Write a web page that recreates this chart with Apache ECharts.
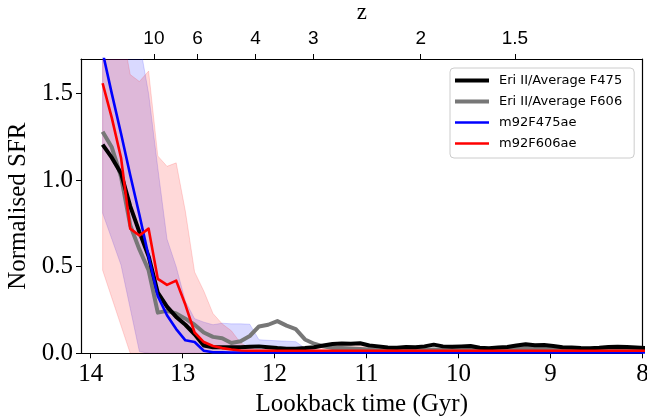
<!DOCTYPE html>
<html>
<head>
<meta charset="utf-8">
<script src="https://cdn.jsdelivr.net/npm/echarts@6/dist/echarts.min.js"></script>
<style>
  html, body { margin: 0; padding: 0; background: #ffffff; }
  #chart { width: 647px; height: 420px; }
</style>
</head>
<body>
<div id="chart"></div>
<script>
// Lookback time of each SFH bin (Gyr)
const times = [
  13.87, 13.77, 13.67, 13.57, 13.47, 13.37, 13.27, 13.17, 13.07, 12.97,
  12.87, 12.77, 12.67, 12.57, 12.47, 12.37, 12.27, 12.17, 12.07, 11.97,
  11.87, 11.77, 11.67, 11.57, 11.47, 11.37, 11.27, 11.17, 11.07, 10.97,
  10.87, 10.77, 10.67, 10.57, 10.47, 10.37, 10.27, 10.17, 10.07, 9.97,
  9.87, 9.77, 9.67, 9.57, 9.47, 9.37, 9.27, 9.17, 9.07, 8.97,
  8.87, 8.77, 8.67, 8.57, 8.47, 8.37, 8.27, 8.17, 8.07, 7.97
];

// Eri II / Average F475
const eriF475 = [
  1.205, 1.13, 1.04, 0.85, 0.70, 0.56, 0.35, 0.27, 0.21, 0.165,
  0.11, 0.045, 0.035, 0.035, 0.035, 0.035, 0.038, 0.040, 0.035, 0.030,
  0.027, 0.027, 0.030, 0.035, 0.045, 0.054, 0.056, 0.055, 0.058, 0.045,
  0.040, 0.033, 0.032, 0.036, 0.035, 0.040, 0.050, 0.040, 0.038, 0.040,
  0.042, 0.032, 0.029, 0.033, 0.036, 0.045, 0.052, 0.046, 0.048, 0.042,
  0.035, 0.033, 0.030, 0.029, 0.032, 0.037, 0.038, 0.036, 0.033, 0.031
];

// Eri II / Average F606
const eriF606 = [
  1.28, 1.19, 1.02, 0.74, 0.60, 0.48, 0.235, 0.245, 0.23, 0.20,
  0.165, 0.12, 0.095, 0.087, 0.060, 0.070, 0.100, 0.155, 0.165, 0.186,
  0.160, 0.140, 0.080, 0.055, 0.040, 0.030, 0.030, 0.028, 0.025, 0.022,
  0.020, 0.020, 0.022, 0.020, 0.018, 0.020, 0.022, 0.020, 0.020, 0.022,
  0.025, 0.020, 0.022, 0.025, 0.028, 0.030, 0.032, 0.030, 0.028, 0.022,
  0.020, 0.018, 0.018, 0.020, 0.018, 0.020, 0.020, 0.018, 0.018, 0.018
];

// m92F475ae
const m92F475 = [
  1.74, 1.50, 1.27, 1.03, 0.80, 0.56, 0.33, 0.22, 0.14, 0.075,
  0.065, 0.015, 0.006, 0.006, 0.005, 0.005, 0.006, 0.005, 0.005, 0.005,
  0.005, 0.005, 0.005, 0.005, 0.005, 0.005, 0.005, 0.005, 0.005, 0.005,
  0.005, 0.005, 0.005, 0.005, 0.005, 0.005, 0.005, 0.005, 0.005, 0.005,
  0.005, 0.005, 0.005, 0.005, 0.005, 0.005, 0.005, 0.005, 0.005, 0.005,
  0.005, 0.005, 0.005, 0.005, 0.005, 0.005, 0.005, 0.005, 0.005, 0.005
];
const m92F475Upper = [
  2.30, 2.20, 2.00, 1.90, 1.80, 1.50, 1.07, 0.66, 0.50, 0.30,
  0.20, 0.18, 0.165, 0.174, 0.170, 0.170, 0.168, 0.078, 0.075, 0.072,
  0.070, 0.067, 0.030, 0.020, 0.015, 0.015, 0.015, 0.015, 0.015, 0.015,
  0.015, 0.015, 0.015, 0.015, 0.015, 0.015, 0.015, 0.015, 0.015, 0.015,
  0.015, 0.015, 0.015, 0.015, 0.015, 0.015, 0.015, 0.015, 0.015, 0.015,
  0.015, 0.015, 0.015, 0.015, 0.015, 0.015, 0.015, 0.015, 0.015, 0.015
];
const m92F475Lower = [
  0.81, 0.66, 0.51, 0.26, 0.01, 0, 0, 0, 0, 0,
  0, 0, 0, 0, 0, 0, 0, 0, 0, 0,
  0, 0, 0, 0, 0, 0, 0, 0, 0, 0,
  0, 0, 0, 0, 0, 0, 0, 0, 0, 0,
  0, 0, 0, 0, 0, 0, 0, 0, 0, 0,
  0, 0, 0, 0, 0, 0, 0, 0, 0, 0
];

// m92F606ae
const m92F606 = [
  1.56, 1.36, 1.13, 0.72, 0.68, 0.72, 0.43, 0.395, 0.42, 0.28,
  0.12, 0.065, 0.042, 0.030, 0.022, 0.016, 0.015, 0.015, 0.015, 0.015,
  0.015, 0.015, 0.015, 0.015, 0.015, 0.015, 0.015, 0.015, 0.015, 0.015,
  0.015, 0.015, 0.015, 0.015, 0.015, 0.015, 0.015, 0.015, 0.015, 0.015,
  0.015, 0.015, 0.015, 0.015, 0.015, 0.015, 0.015, 0.015, 0.015, 0.015,
  0.015, 0.015, 0.015, 0.015, 0.015, 0.015, 0.015, 0.015, 0.015, 0.015
];
const m92F606Upper = [
  2.30, 2.10, 1.90, 1.61, 1.57, 1.63, 1.14, 1.08, 1.10, 0.82,
  0.47, 0.36, 0.23, 0.17, 0.13, 0.06, 0.03, 0.022, 0.022, 0.022,
  0.025, 0.025, 0.025, 0.030, 0.035, 0.045, 0.050, 0.055, 0.055, 0.045,
  0.030, 0.025, 0.025, 0.025, 0.025, 0.025, 0.025, 0.025, 0.025, 0.025,
  0.025, 0.025, 0.025, 0.025, 0.025, 0.025, 0.025, 0.025, 0.025, 0.025,
  0.025, 0.025, 0.025, 0.025, 0.025, 0.025, 0.025, 0.025, 0.025, 0.025
];
const m92F606Lower = [
  0.48, 0.32, 0.16, 0, 0, 0, 0, 0, 0, 0,
  0, 0, 0, 0, 0, 0, 0, 0, 0, 0,
  0, 0, 0, 0, 0, 0, 0, 0, 0, 0,
  0, 0, 0, 0, 0, 0, 0, 0, 0, 0,
  0, 0, 0, 0, 0, 0, 0, 0, 0, 0,
  0, 0, 0, 0, 0, 0, 0, 0, 0, 0
];

// Axis ticks
const timeTicks = [8, 9, 10, 11, 12, 13, 14];
const sfrTicks = [0, 0.5, 1.0, 1.5];
// Redshift ticks on the top axis, placed at their lookback times
const zLabels = ['10', '6', '4', '3', '2', '1.5'];
const zTimes = [13.312, 12.837, 12.206, 11.58, 10.412, 9.387];

const SERIF = '"Liberation Serif", "Times New Roman", serif';
const SANS = '"DejaVu Sans", sans-serif';

// Legend swatches: plain bars, thick for the Eri II curves, thin for the models
const THICK_BAR = 'path://M0,0 L34,0 L34,4 L0,4 Z';
const THIN_BAR = 'path://M0,0 L34,0 L34,2.6 L0,2.6 Z';

function pairs(values) {
  return times.map((t, i) => [t, values[i]]);
}

function lineSeries(name, values, color, width) {
  return {
    name: name,
    type: 'line',
    data: pairs(values),
    symbol: 'none',
    showSymbol: false,
    clip: true,
    lineStyle: { color: color, width: width, join: 'round', cap: 'butt' },
    itemStyle: { color: color },
    z: 3
  };
}

function bandSeries(name, upper, lower, fill) {
  return {
    name: name,
    type: 'custom',
    clip: true,
    silent: true,
    z: 1,
    data: [[times[0], lower[0]]],
    renderItem: function (params, api) {
      const pts = [];
      for (let i = 0; i < times.length; i++) pts.push(api.coord([times[i], upper[i]]));
      for (let i = times.length - 1; i >= 0; i--) pts.push(api.coord([times[i], lower[i]]));
      return {
        type: 'polygon',
        shape: { points: pts },
        style: { fill: fill, stroke: fill, lineWidth: 1 }
      };
    }
  };
}

const chart = echarts.init(document.getElementById('chart'), null, { renderer: 'canvas' });

chart.setOption({
  animation: false,
  backgroundColor: '#ffffff',
  grid: { left: 81, right: 4.5, top: 59, bottom: 66.7, containLabel: false, outerBoundsMode: 'none' },
  xAxis: [
    {
      type: 'value',
      position: 'bottom',
      min: 8,
      max: 14.105,
      inverse: true,
      name: 'Lookback time (Gyr)',
      nameLocation: 'middle',
      nameGap: 39,
      nameTextStyle: { fontFamily: SERIF, fontSize: 25, color: '#000' },
      axisLine: { show: true, onZero: false, lineStyle: { color: '#000', width: 1.2 } },
      axisTick: { show: true, inside: false, length: 5, customValues: timeTicks, lineStyle: { color: '#000', width: 1 } },
      axisLabel: {
        customValues: timeTicks,
        margin: 9,
        fontFamily: SERIF, fontSize: 25, color: '#000',
        formatter: v => String(v)
      },
      splitLine: { show: false }
    },
    {
      type: 'value',
      position: 'top',
      min: 8,
      max: 14.105,
      inverse: true,
      name: 'z',
      nameLocation: 'middle',
      nameGap: 34,
      nameTextStyle: { fontFamily: SERIF, fontSize: 23, color: '#000' },
      axisLine: { show: true, onZero: false, lineStyle: { color: '#000', width: 1.2 } },
      axisTick: { show: true, inside: false, length: 5, customValues: zTimes, lineStyle: { color: '#000', width: 1 } },
      axisLabel: {
        customValues: zTimes,
        margin: 11,
        fontFamily: '"Liberation Sans", Arial, sans-serif', fontSize: 19, color: '#000',
        formatter: function (v) {
          let best = 0;
          for (let i = 0; i < zTimes.length; i++) {
            if (Math.abs(zTimes[i] - v) < Math.abs(zTimes[best] - v)) best = i;
          }
          return zLabels[best];
        }
      },
      splitLine: { show: false }
    }
  ],
  yAxis: [
    {
      type: 'value',
      position: 'left',
      min: 0,
      max: 1.7,
      name: 'Normalised SFR',
      nameLocation: 'middle',
      nameGap: 49,
      nameRotate: 90,
      nameTextStyle: { fontFamily: SERIF, fontSize: 25, color: '#000' },
      axisLine: { show: true, onZero: false, lineStyle: { color: '#000', width: 1.2 } },
      axisTick: { show: true, inside: false, length: 5, customValues: sfrTicks, lineStyle: { color: '#000', width: 1 } },
      axisLabel: {
        customValues: sfrTicks,
        margin: 8,
        fontFamily: SERIF, fontSize: 25, color: '#000',
        formatter: v => v.toFixed(1)
      },
      splitLine: { show: false }
    },
    {
      type: 'value',
      position: 'right',
      min: 0,
      max: 1.7,
      axisLine: { show: true, onZero: false, lineStyle: { color: '#000', width: 1.2 } },
      axisTick: { show: false },
      axisLabel: { show: false },
      splitLine: { show: false }
    }
  ],
  legend: {
    orient: 'vertical',
    left: 450,
    top: 68,
    itemWidth: 34,
    itemHeight: 14,
    itemGap: 8,
    padding: [6, 12, 8, 5],
    borderColor: '#cccccc',
    borderWidth: 1,
    borderRadius: 4,
    backgroundColor: 'rgba(255,255,255,0.8)',
    textStyle: { fontFamily: SANS, fontSize: 13, color: '#000', padding: [0, 0, 0, 5] },
    data: [
      { name: 'Eri II/Average F475', icon: THICK_BAR },
      { name: 'Eri II/Average F606', icon: THICK_BAR },
      { name: 'm92F475ae', icon: THIN_BAR },
      { name: 'm92F606ae', icon: THIN_BAR }
    ]
  },
  series: [
    bandSeries('m92F475ae range', m92F475Upper, m92F475Lower, 'rgba(0,0,255,0.15)'),
    bandSeries('m92F606ae range', m92F606Upper, m92F606Lower, 'rgba(255,0,0,0.15)'),
    lineSeries('Eri II/Average F606', eriF606, '#777777', 4),
    lineSeries('Eri II/Average F475', eriF475, '#000000', 4),
    lineSeries('m92F475ae', m92F475, '#0000ff', 2.6),
    lineSeries('m92F606ae', m92F606, '#ff0000', 2.6)
  ]
});
</script>
</body>
</html>
